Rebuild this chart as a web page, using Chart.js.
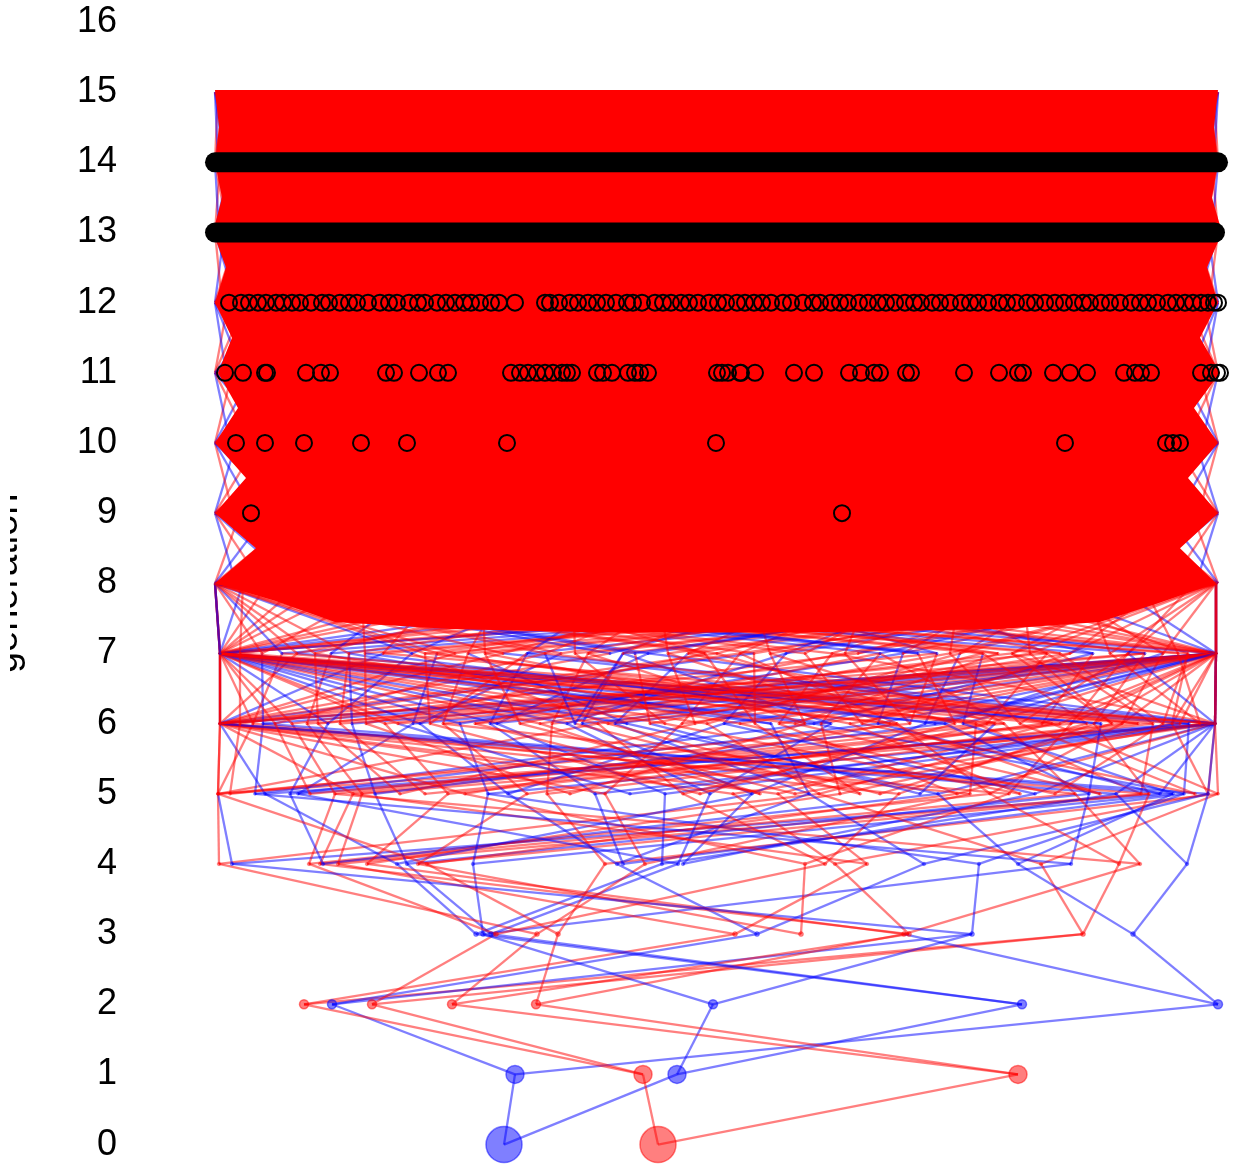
<!DOCTYPE html>
<html>
<head>
<meta charset="utf-8">
<script src="https://cdn.jsdelivr.net/npm/chart.js@4.4.1/dist/chart.umd.min.js"></script>
<style>
  html, body { margin: 0; padding: 0; background: #fff; }
  #wrap { width: 1239px; height: 1165px; }
</style>
</head>
<body>
<div id="wrap"><canvas id="chart"></canvas></div>
<script>
// node positions (x) per generation, sex ("b" blue / "r" red),
// and for each node the indexes of its two parents in the next generation.
// Ancestors that sit at the far left / far right edge are repeated once per node.
const gen0X = [504, 658];
const gen0Sex = "br";
const gen0Parents = [[0, 2], [1, 3]];

const gen1X = [515, 643, 677, 1018];
const gen1Sex = "brbr";
const gen1Parents = [[1, 7], [0, 2], [5, 6], [3, 4]];

const gen2X = [304, 332, 372, 452, 536, 713, 1022, 1218];
const gen2Sex = "rbrrrbbb";
const gen2Parents = [[6, 12], [11, 7], [3, 12], [4, 10], [5, 9], [1, 11], [0, 2], [13, 9]];

const gen3X = [476, 483, 491, 496, 537, 558, 735, 757, 801, 904, 909, 972, 1083, 1133];
const gen3Sex = "bbbrrrrbrrrbrb";
const gen3Parents = [[7, 16], [11, 27], [8, 17], [2, 20], [0, 15], [10, 12], [5, 22],
  [13, 23], [9, 19], [6, 29], [3, 21], [1, 24], [26, 28], [25, 30]];

const gen4X = [219, 232, 309, 320, 323, 338, 367, 397, 407, 418, 427, 473, 605, 617, 623, 645,
  662, 678, 683, 805, 825, 835, 867, 924, 979, 1018, 1041, 1071, 1119, 1140, 1187];
const gen4Sex = "rbrrbrrbbrrbrbbrbbbrrrrbbbrbrrb";
const gen4Parents = [[0, 26], [1, 40], [7, 32], [8, 35], [5, 29], [9, 38], [11, 27], [4, 23],
  [10, 36], [15, 39], [2, 30], [13, 41], [16, 45], [14, 25], [17, 42], [18, 31], [19, 37],
  [6, 21], [23, 34], [12, 33], [20, 28], [22, 43], [8, 24], [25, 44], [13, 42], [29, 41],
  [26, 45], [3, 36], [32, 39], [7, 35], [37, 44]];

const gen5X = [218, 218, 218, 255, 265, 290, 298, 335, 353, 362, 375, 448, 465, 488, 508, 527,
  547, 595, 605, 665, 683, 710, 733, 752, 778, 809, 819, 840, 899, 938, 957, 970, 990, 1009,
  1035, 1075, 1089, 1116, 1141, 1149, 1160, 1173, 1184, 1208, 1208, 1218,
  230, 310, 400, 425, 570, 630, 700, 760, 795, 860, 880, 920, 1020, 1055, 1100, 1195];
const gen5Sex = "rrr" + "bbbbrrrbrrbbrrbrbrb" + "rbrbrrrbrrrrbrbbrrbbbr" + "br" + "rrrrrbrrrrrbrrrr";
const gen5Parents = [[0, 24], [1, 53], [8, 41], [9, 32], [2, 54], [12, 35], [15, 52], [10, 42],
  [3, 45], [11, 55], [13, 38], [14, 49], [4, 36], [18, 56], [16, 29], [17, 43], [21, 50],
  [19, 57], [5, 27], [20, 58], [24, 41], [22, 34], [6, 59], [23, 37], [7, 44], [25, 30],
  [28, 46], [33, 51], [0, 47], [26, 60], [31, 53], [8, 40], [36, 49], [1, 45], [29, 54],
  [17, 42], [38, 48], [2, 55], [40, 50], [3, 47], [35, 56], [9, 39], [32, 52], [51, 57],
  [4, 58], [44, 59],
  [61, 83], [62, 88], [63, 75], [64, 90], [65, 79], [66, 92], [67, 85], [68, 70], [69, 93],
  [71, 77], [72, 89], [73, 86], [74, 80], [76, 91], [78, 82], [81, 87]];

const gen6X = [220, 220, 220, 220, 220, 220, 220, 220,
  253, 263, 292, 307, 328, 352, 385, 413, 420, 443, 460, 490, 497, 552, 567, 582, 598, 615,
  627, 682, 707, 724, 771, 779, 814, 821, 831, 878, 897, 925, 945, 963, 976, 987, 1004, 1042,
  1052, 1071, 1087, 1094, 1101, 1122, 1153, 1172, 1189,
  1215, 1215, 1215, 1215, 1215, 1215, 1215, 1215,
  240, 275, 318, 340, 366, 398, 430, 475, 520, 540, 575, 608, 650, 665, 695, 740, 755, 795,
  805, 850, 862, 890, 910, 935, 955, 995, 1020, 1060, 1112, 1138, 1163, 1180, 1200];
const gen6Sex = "rbrrbrrr" + "rbrrbbrbbrbbbrbbrbbrr" + "bbrbrbbrbbbrrrrrrrrbrrrb" + "brrbrrbr" +
  "rrrrrrrrrrbrrrrrrrrrrrrbrrrrrrrrr";
const gen6Parents = [[0, 18], [1, 30], [12, 44], [2, 24], [15, 50], [3, 36], [20, 47], [4, 28],
  [5, 11], [10, 48], [6, 33], [13, 51], [7, 16], [14, 49], [8, 39], [17, 52], [9, 22],
  [19, 53], [0, 35], [21, 54], [1, 26], [23, 55], [2, 31], [25, 56], [3, 41], [27, 47],
  [4, 19], [29, 48], [5, 37], [31, 49], [6, 14], [32, 50], [7, 42], [34, 51], [8, 25],
  [35, 52], [9, 29], [37, 53], [0, 45], [38, 54], [1, 17], [40, 55], [2, 34], [42, 56],
  [3, 27], [43, 47], [4, 38], [44, 48], [5, 12], [45, 49], [6, 40], [46, 50], [7, 20],
  [51, 43], [52, 11], [53, 32], [54, 21], [55, 39], [56, 9], [48, 26], [49, 15],
  [57, 29], [0, 62], [58, 40], [47, 14], [59, 66], [1, 44], [60, 21], [48, 69], [61, 34],
  [2, 71], [62, 25], [49, 16], [64, 73], [3, 63], [65, 38], [50, 58], [66, 30], [4, 72],
  [67, 23], [51, 61], [68, 41], [5, 65], [69, 36], [52, 59], [70, 28], [6, 67], [71, 43],
  [53, 60], [73, 39], [7, 62], [74, 46], [54, 57], [75, 76]];

const gen7X = [220, 220, 220, 220, 220, 220, 220, 220, 220, 220,
  262, 282, 297, 331, 349, 383, 412, 437, 455, 468, 503, 527, 561, 588, 610, 623, 648, 688,
  717, 740, 754, 786, 832, 858, 880, 903, 937, 960, 983, 1012, 1047, 1070, 1093, 1128, 1145,
  1163, 1188,
  1216, 1216, 1216, 1216, 1216, 1216, 1216, 1216, 1216, 1216,
  240, 315, 365, 425, 485, 545, 575, 635, 668, 705, 770, 805, 845, 918, 950, 998, 1030, 1060,
  1110, 1178];
const gen7Sex = "rrbrrbrrrb" + "rbrbrrbrrrrbrrbrbrrrrbrrbrbrrrrrbrbrr" + "brrrbrrbrr" +
  "rrrrrrrbrrrrrbrrrrrr";
const gen7Parents = [[0, 14], [1, 22], [10, 30], [2, 18], [11, 40], [3, 26], [12, 45], [4, 34],
  [13, 20], [5, 48],
  [6, 15], [0, 44], [7, 24], [16, 46], [1, 29], [17, 47], [8, 21], [2, 49], [9, 33], [19, 50],
  [3, 27], [23, 51], [4, 36], [25, 52], [5, 31], [28, 43], [6, 38], [30, 44], [7, 35],
  [32, 45], [8, 41], [34, 46], [9, 37], [39, 47], [0, 42], [36, 48], [1, 25], [38, 49],
  [2, 19], [40, 50], [3, 32], [41, 51], [4, 28], [42, 52], [5, 23], [37, 43], [6, 35],
  [52, 39], [51, 27], [50, 33], [49, 18], [48, 12], [47, 29], [46, 22], [45, 36], [44, 16],
  [43, 31],
  [10, 30], [0, 22], [14, 47], [1, 35], [18, 44], [2, 26], [21, 49], [3, 39], [24, 50],
  [4, 17], [27, 45], [5, 33], [31, 51], [6, 12], [34, 46], [7, 20], [36, 52], [8, 25],
  [38, 43], [9, 40]];

const gen8X = [215, 215, 215, 215, 215, 215, 215, 215, 215, 215,
  243, 268, 302, 327, 361, 388, 423, 447, 482, 508, 539, 573, 598, 633, 657, 692, 718, 749,
  783, 812, 838, 873, 897, 932, 961, 988, 1022, 1049, 1083, 1108, 1142, 1168, 1194,
  1216, 1216, 1216, 1216, 1216, 1216, 1216, 1216, 1216, 1216];

// generations 8-14: links that fan out of the edge ancestors (left x 215, right x 1218)
const notchGen = [8, 9, 10, 11, 12, 13, 14];
const notchSex = ["rbrbr", "brrbr", "rbrrb", "rrbrb", "brbrr", "rbrbr", "rrbrb"];
const notchLeftUp = [[240, 268, 300, 350, 430], [236, 258, 290, 335, 400], [232, 252, 280, 320, 380],
  [228, 245, 270, 305, 350], [224, 238, 258, 290, 330], [220, 230, 245, 270, 300], [218, 225, 235, 255, 280]];
const notchLeftDown = [[236, 262, 295, 345, 420], [233, 255, 285, 330, 390], [230, 250, 275, 315, 370],
  [226, 243, 265, 300, 345], [222, 236, 255, 285, 320], [219, 228, 242, 265, 295], [218, 224, 233, 250, 275]];
const notchRightUp = [[1192, 1165, 1130, 1080, 1010], [1196, 1175, 1145, 1100, 1040], [1200, 1182, 1155, 1115, 1060],
  [1204, 1188, 1165, 1130, 1085], [1208, 1195, 1175, 1145, 1105], [1212, 1202, 1188, 1165, 1135], [1214, 1208, 1198, 1180, 1155]];
const notchRightDown = [[1196, 1170, 1135, 1085, 1020], [1199, 1178, 1150, 1105, 1050], [1202, 1185, 1160, 1120, 1070],
  [1205, 1190, 1168, 1135, 1090], [1209, 1197, 1178, 1150, 1110], [1212, 1204, 1190, 1168, 1140], [1214, 1209, 1200, 1183, 1160]];
const edgeLeftX = 215;
const edgeRightX = 1218;

// outline of the solid red mass (x, generation)
const massX = [215, 219, 215, 222, 213, 226, 215, 232, 218, 238, 215, 246, 215, 256, 215,
  275, 335, 450, 600, 800, 1000, 1100, 1155, 1216,
  1180, 1218, 1188, 1218, 1194, 1220, 1200, 1218, 1207, 1222, 1212, 1218, 1214, 1218];
const massGen = [15.03, 14.5, 14, 13.5, 13, 12.5, 12, 11.5, 11, 10.5, 10, 9.5, 9, 8.5, 8,
  7.75, 7.45, 7.35, 7.3, 7.3, 7.35, 7.45, 7.7, 8,
  8.5, 9, 9.5, 10, 10.5, 11, 11.5, 12, 12.5, 13, 13.5, 14, 14.5, 15.03];

// repeated ancestors (black rings)
const ring9X = [251, 842];
const ring10X = [236, 265, 304, 361, 407, 507, 716, 1065, 1166, 1173, 1180];
const ring11X = [225, 243, 265, 267, 306, 321, 330, 386, 394, 419, 438, 448, 511, 520, 528, 537,
  545, 553, 562, 567, 572, 597, 603, 612, 628, 635, 640, 648, 717, 722, 728, 740, 741, 755,
  794, 814, 849, 861, 874, 880, 906, 911, 964, 999, 1018, 1023, 1053, 1070, 1087, 1124, 1135,
  1141, 1151, 1201, 1211, 1217, 1220];
const ring12X = [229, 241, 249, 258, 266, 276, 283, 292, 300, 311, 322, 329, 340, 349, 357, 368,
  380, 389, 397, 409, 418, 425, 437, 446, 455, 464, 471, 480, 491, 499, 515, 545, 550, 559,
  570, 578, 588, 597, 606, 616, 627, 633, 642, 655, 663, 671, 681, 689, 698, 709, 718, 726,
  737, 745, 754, 762, 771, 783, 791, 803, 813, 820, 831, 840, 848, 859, 868, 878, 886, 895,
  905, 914, 921, 932, 940, 950, 961, 970, 978, 988, 999, 1007, 1016, 1027, 1035, 1045, 1055,
  1064, 1074, 1083, 1090, 1101, 1110, 1120, 1131, 1140, 1148, 1157, 1168, 1176, 1185, 1193,
  1201, 1208, 1214, 1218];
// generations 13 and 14 are packed solid with rings: start and end of each band
const bandGen = [13, 14];
const bandStart = [215, 215];
const bandEnd = [1215, 1218];

const yTicks = [0, 1, 2, 3, 4, 5, 6, 7, 8, 9, 10, 11, 12, 13, 14, 15, 16];

const BLUE = "rgba(0,0,255,0.5)";
const RED = "rgba(255,0,0,0.5)";
const dotRadius = [18, 9, 4.5, 2.5, 1.8, 1.5, 1.3, 1.2];

const genX = [gen0X, gen1X, gen2X, gen3X, gen4X, gen5X, gen6X, gen7X, gen8X];
const genSex = [gen0Sex, gen1Sex, gen2Sex, gen3Sex, gen4Sex, gen5Sex, gen6Sex, gen7Sex];
const genParents = [gen0Parents, gen1Parents, gen2Parents, gen3Parents, gen4Parents,
  gen5Parents, gen6Parents, gen7Parents];

// links: child -> parent, coloured like the child, broken by null points.
// "under" links (gen 7 up and the edge fans) are drawn beneath the red mass.
const over = { points: [], colors: [] };
const under = { points: [], colors: [] };
function addLink(set, x1, g1, x2, g2, sex) {
  const c = sex === "b" ? BLUE : RED;
  set.points.push({ x: x1, y: g1 }, { x: x2, y: g2 }, { x: x1, y: null });
  set.colors.push(c, c, c);
}
for (let g = 0; g < genParents.length; g++) {
  const set = g >= 7 ? under : over;
  genX[g].forEach((x, i) => {
    genParents[g][i].forEach((p) => addLink(set, x, g, genX[g + 1][p], g + 1, genSex[g][i]));
  });
}
notchGen.forEach((g, k) => {
  for (let i = 0; i < notchSex[k].length; i++) {
    const s = notchSex[k][i];
    const t = s === "b" ? "r" : "b";
    addLink(under, edgeLeftX, g, notchLeftUp[k][i], g + 1, s);
    addLink(under, notchLeftDown[k][i], g, edgeLeftX, g + 1, t);
    addLink(under, edgeRightX, g, notchRightUp[k][i], g + 1, s);
    addLink(under, notchRightDown[k][i], g, edgeRightX, g + 1, t);
  }
});

function linkDataset(set, order, isUnder) {
  return {
    type: "line",
    data: set.points,
    borderWidth: 2.3,
    borderColor: RED,
    segment: { borderColor: (ctx) => set.colors[ctx.p0DataIndex] },
    pointRadius: 0,
    spanGaps: false,
    tension: 0,
    fill: false,
    clip: false,
    order: order,
    underMass: isUnder,
  };
}

const datasets = [];

bandGen.forEach((g, i) => {
  datasets.push({
    type: "line",
    data: [{ x: bandStart[i], y: g }, { x: bandEnd[i], y: g }],
    borderColor: "#000",
    borderWidth: 20,
    borderCapStyle: "round",
    pointRadius: 0,
    fill: false,
    clip: false,
    order: 0,
  });
});

[[9, ring9X], [10, ring10X], [11, ring11X], [12, ring12X]].forEach(([g, xs]) => {
  datasets.push({
    type: "scatter",
    data: xs.map((x) => ({ x: x, y: g })),
    showLine: false,
    pointRadius: 8,
    pointBorderWidth: 2,
    pointBorderColor: "#000",
    pointBackgroundColor: "rgba(0,0,0,0)",
    clip: false,
    order: 1,
  });
});

for (let g = 0; g < genSex.length; g++) {
  const cols = genSex[g].split("").map((s) => (s === "b" ? BLUE : RED));
  datasets.push({
    type: "scatter",
    data: genX[g].map((x) => ({ x: x, y: g })),
    showLine: false,
    pointRadius: dotRadius[g],
    pointBorderWidth: g < 3 ? 1.5 : 0.5,
    pointBackgroundColor: cols,
    pointBorderColor: cols,
    clip: false,
    order: 2,
  });
}

datasets.push(linkDataset(over, 3, false));
datasets.push(linkDataset(under, 4, true));

// the solid red mass is painted right after the "under" links
const massPlugin = {
  id: "mass",
  afterDatasetDraw(chart, args) {
    if (!chart.data.datasets[args.index].underMass) return;
    const { ctx, scales } = chart;
    ctx.save();
    ctx.fillStyle = "#ff0000";
    ctx.beginPath();
    massX.forEach((v, i) => {
      const px = scales.x.getPixelForValue(v);
      const py = scales.y.getPixelForValue(massGen[i]);
      if (i === 0) ctx.moveTo(px, py);
      else ctx.lineTo(px, py);
    });
    ctx.closePath();
    ctx.fill();
    ctx.restore();
  },
};

// y title sits half off the left edge, as in the picture
const titlePlugin = {
  id: "ytitle",
  afterDraw(chart) {
    const { ctx, chartArea } = chart;
    ctx.save();
    ctx.beginPath();
    ctx.rect(10, 0, 60, chart.height);
    ctx.clip();
    ctx.translate(17, (chartArea.top + chartArea.bottom) / 2);
    ctx.rotate(-Math.PI / 2);
    ctx.font = "38px 'Liberation Sans', Arial, sans-serif";
    ctx.fillStyle = "#000";
    ctx.textAlign = "center";
    ctx.textBaseline = "alphabetic";
    ctx.fillText("generation", 0, 0);
    ctx.restore();
  },
};

new Chart(document.getElementById("chart"), {
  type: "line",
  data: { datasets },
  options: {
    responsive: true,
    maintainAspectRatio: false,
    animation: false,
    devicePixelRatio: 1,
    layout: { autoPadding: false, padding: { top: 22, bottom: 20, left: 0, right: 0 } },
    plugins: { legend: { display: false }, tooltip: { enabled: false } },
    events: [],
    scales: {
      x: { type: "linear", min: 123, max: 1239, display: false },
      y: {
        type: "linear",
        min: 0,
        max: 16,
        afterBuildTicks: (s) => { s.ticks = yTicks.map((v) => ({ value: v })); },
        afterFit: (s) => { s.width = 123; },
        grid: { display: false, drawTicks: false },
        border: { display: false },
        ticks: {
          padding: 6,
          color: "#000",
          font: { family: "'Liberation Sans', Arial, sans-serif", size: 36, lineHeight: 0.8 },
        },
      },
    },
  },
  plugins: [massPlugin, titlePlugin],
});
</script>
</body>
</html>
